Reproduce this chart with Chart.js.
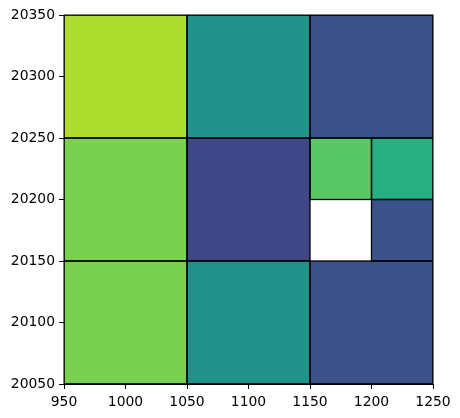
<!DOCTYPE html>
<html>
<head>
<meta charset="utf-8">
<script src="https://cdn.jsdelivr.net/npm/chart.js@4/dist/chart.umd.min.js"></script>
<style>
html,body{margin:0;padding:0;background:#fff;}
#wrap{width:460px;height:418px;}
</style>
</head>
<body>
<div id="wrap"><canvas id="c" width="460" height="418"></canvas></div>
<script>
// Cell bounds (data units) and values (0..1 on viridis, null = empty)
const cellX0 = [950, 1050, 1150, 950, 1050, 1150, 1200, 1150, 1200, 950, 1050, 1150];
const cellX1 = [1050, 1150, 1250, 1050, 1150, 1200, 1250, 1200, 1250, 1050, 1150, 1250];
const cellY0 = [20250, 20250, 20250, 20150, 20150, 20200, 20200, 20150, 20150, 20050, 20050, 20050];
const cellY1 = [20350, 20350, 20350, 20250, 20250, 20250, 20250, 20200, 20200, 20150, 20150, 20150];
const cellValue = [0.88, 0.5, 0.25, 0.8, 0.21, 0.74, 0.64, null, 0.25, 0.8, 0.5, 0.25];
const xTicks = [950, 1000, 1050, 1100, 1150, 1200, 1250];
const yTicks = [20050, 20100, 20150, 20200, 20250, 20300, 20350];

const viridis = [
  [0.00,[68,1,84]],[0.10,[72,36,117]],[0.20,[65,68,135]],[0.25,[59,82,139]],[0.30,[53,95,141]],
  [0.40,[42,120,142]],[0.50,[33,145,140]],[0.60,[34,168,132]],[0.65,[41,175,127]],[0.70,[68,191,112]],[0.75,[94,201,98]],
  [0.80,[122,209,81]],[0.85,[155,217,60]],[0.90,[189,223,38]],[1.00,[253,231,37]]
];
function cmap(v){
  for(let i=0;i<viridis.length-1;i++){
    const [a,ca]=viridis[i],[b,cb]=viridis[i+1];
    if(v>=a && v<=b){
      const t=(v-a)/(b-a);
      const c=ca.map((x,k)=>Math.round(x+(cb[k]-x)*t));
      return `rgb(${c[0]},${c[1]},${c[2]})`;
    }
  }
  return 'rgb(253,231,37)';
}

const cellsPlugin = {
  id:'cells',
  beforeDatasetsDraw(chart){
    const {ctx, scales:{x,y}, chartArea:a} = chart;
    ctx.save();
    ctx.beginPath();
    ctx.rect(a.left, a.top, a.right-a.left, a.bottom-a.top);
    ctx.clip();
    for(let i=0;i<cellValue.length;i++){
      if(cellValue[i]===null) continue;
      const px0=x.getPixelForValue(cellX0[i]), px1=x.getPixelForValue(cellX1[i]);
      const py0=y.getPixelForValue(cellY1[i]), py1=y.getPixelForValue(cellY0[i]);
      ctx.fillStyle=cmap(cellValue[i]);
      ctx.fillRect(px0,py0,px1-px0,py1-py0);
    }
    ctx.strokeStyle='#000';
    ctx.lineWidth=1.3;
    for(let i=0;i<cellValue.length;i++){
      if(cellValue[i]===null) continue;
      const px0=x.getPixelForValue(cellX0[i]), px1=x.getPixelForValue(cellX1[i]);
      const py0=y.getPixelForValue(cellY1[i]), py1=y.getPixelForValue(cellY0[i]);
      ctx.strokeRect(px0,py0,px1-px0,py1-py0);
    }
    ctx.restore();
    ctx.save();
    ctx.strokeStyle='#000';
    ctx.lineWidth=1;
    ctx.strokeRect(a.left,a.top,a.right-a.left,a.bottom-a.top);
    ctx.restore();
  }
};

const font = {family:'DejaVu Sans', size:13.9};
new Chart(document.getElementById('c'),{
  type:'scatter',
  data:{datasets:[{data:[]}]},
  options:{
    responsive:false,
    animation:false,
    devicePixelRatio:1,
    layout:{padding:{top:15,right:27,left:0,bottom:0}},
    plugins:{legend:{display:false},tooltip:{enabled:false}},
    scales:{
      x:{
        type:'linear', min:950, max:1250,
        afterBuildTicks(s){ s.ticks = xTicks.map(v=>({value:v})); },
        afterFit(s){ s.height = 34; },
        ticks:{color:'#000', font, padding:5, maxRotation:0, autoSkip:false, callback:v=>String(v)},
        grid:{drawOnChartArea:false, drawTicks:true, tickLength:5, color:'#000'},
        border:{display:true, color:'#000'}
      },
      y:{
        type:'linear', min:20050, max:20350,
        afterBuildTicks(s){ s.ticks = yTicks.map(v=>({value:v})); },
        afterFit(s){ s.width = 64; },
        ticks:{color:'#000', font, padding:4, autoSkip:false, callback:v=>String(v)},
        grid:{drawOnChartArea:false, drawTicks:true, tickLength:5, color:'#000'},
        border:{display:true, color:'#000'}
      }
    }
  },
  plugins:[cellsPlugin]
});
</script>
</body>
</html>
